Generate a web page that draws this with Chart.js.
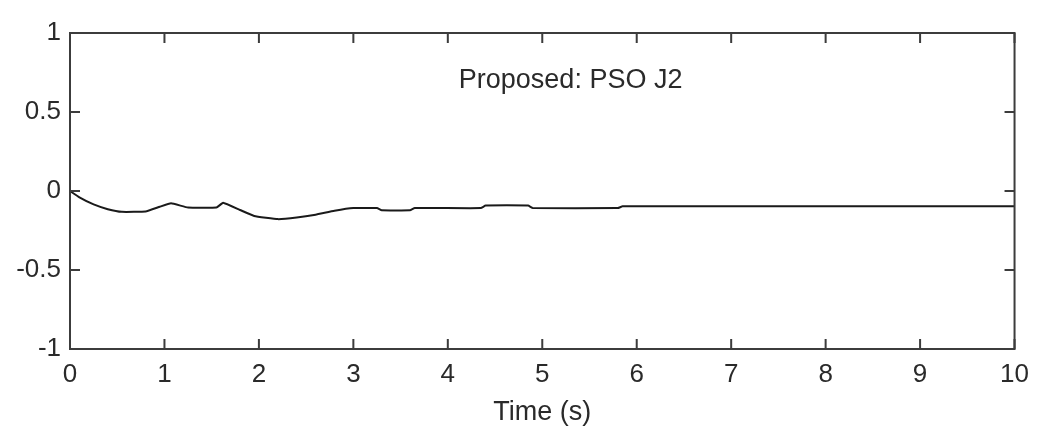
<!DOCTYPE html>
<html>
<head>
<meta charset="utf-8">
<script src="https://cdn.jsdelivr.net/npm/chart.js@4/dist/chart.umd.min.js"></script>
<style>
  html, body { margin: 0; padding: 0; background: #fff; }
  #wrap { width: 1039px; height: 429px; }
</style>
</head>
<body>
<div id="wrap"><canvas id="chart" width="1039" height="429"></canvas></div>
<script>
// data
const timeValues = [0, 0.1, 0.25, 0.4, 0.55, 0.8, 0.95, 1.07, 1.25, 1.55, 1.62, 1.8, 1.95, 2.2, 2.4, 2.6, 2.8, 3.0, 3.25, 3.3, 3.6, 3.65, 4.35, 4.4, 4.85, 4.9, 5.8, 5.85, 10];
const responseValues = [0, -0.04, -0.085, -0.115, -0.132, -0.13, -0.1, -0.078, -0.105, -0.105, -0.075, -0.12, -0.158, -0.178, -0.168, -0.15, -0.125, -0.108, -0.108, -0.122, -0.122, -0.108, -0.108, -0.092, -0.092, -0.108, -0.108, -0.097, -0.097];
const xTickValues = [0, 1, 2, 3, 4, 5, 6, 7, 8, 9, 10];
const yTickValues = [-1, -0.5, 0, 0.5, 1];
const annotationText = "Proposed: PSO J2";
const annotationPos = { x: 5.3, y: 0.7 };

const textColor = "#2a2a2a";
const axisColor = "#3c3c3c";
const fontFamily = "'Liberation Sans', Arial, sans-serif";

// matlab-like box with inward ticks + text label
const boxPlugin = {
  id: "matlabBox",
  afterDatasetsDraw(chart) {
    const { ctx, chartArea: a, scales } = chart;
    const len = 10;
    ctx.save();
    ctx.strokeStyle = axisColor;
    ctx.lineWidth = 2;
    ctx.strokeRect(a.left, a.top, a.right - a.left, a.bottom - a.top);
    ctx.beginPath();
    xTickValues.forEach(v => {
      const px = scales.x.getPixelForValue(v);
      ctx.moveTo(px, a.bottom); ctx.lineTo(px, a.bottom - len);
      ctx.moveTo(px, a.top); ctx.lineTo(px, a.top + len);
    });
    yTickValues.forEach(v => {
      const py = scales.y.getPixelForValue(v);
      ctx.moveTo(a.left, py); ctx.lineTo(a.left + len, py);
      ctx.moveTo(a.right, py); ctx.lineTo(a.right - len, py);
    });
    ctx.stroke();

    ctx.fillStyle = textColor;
    ctx.font = "27px " + fontFamily;
    ctx.textAlign = "center";
    ctx.textBaseline = "middle";
    ctx.fillText(annotationText, scales.x.getPixelForValue(annotationPos.x), scales.y.getPixelForValue(annotationPos.y));
    ctx.restore();
  }
};

new Chart(document.getElementById("chart"), {
  type: "line",
  data: {
    datasets: [{
      data: timeValues.map((t, i) => ({ x: t, y: responseValues[i] })),
      borderColor: "#1a1a1a",
      borderWidth: 2,
      pointRadius: 0,
      tension: 0.1,
      fill: false
    }]
  },
  options: {
    responsive: false,
    animation: false,
    layout: { padding: { left: 0, right: 24, top: 33, bottom: 0 } },
    plugins: { legend: { display: false }, tooltip: { enabled: false } },
    scales: {
      x: {
        type: "linear",
        min: 0, max: 10,
        afterBuildTicks: s => { s.ticks = xTickValues.map(v => ({ value: v })); },
        afterFit: s => { s.height = 80; },
        grid: { display: false, drawTicks: false },
        border: { display: false },
        ticks: { color: textColor, font: { size: 26, family: fontFamily }, padding: 10, maxRotation: 0, callback: v => String(v) },
        title: { display: true, text: "Time (s)", color: textColor, font: { size: 27, family: fontFamily }, padding: { top: 0, bottom: 0 } }
      },
      y: {
        min: -1, max: 1,
        afterBuildTicks: s => { s.ticks = yTickValues.map(v => ({ value: v })); },
        afterFit: s => { s.width = 70; },
        grid: { display: false, drawTicks: false },
        border: { display: false },
        ticks: { color: textColor, font: { size: 26, family: fontFamily }, padding: 9, callback: v => String(v) }
      }
    }
  },
  plugins: [boxPlugin]
});
</script>
</body>
</html>
